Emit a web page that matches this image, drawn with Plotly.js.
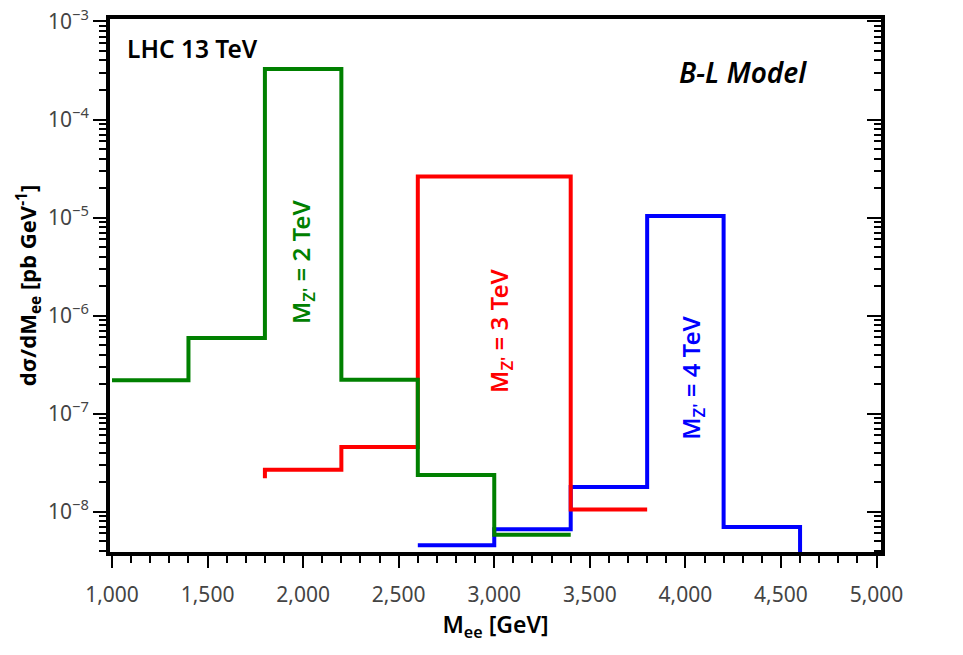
<!DOCTYPE html>
<html>
<head>
<meta charset="utf-8">
<script src="https://cdn.plot.ly/plotly-3.0.1.min.js"></script>
<style>
  html, body { margin: 0; padding: 0; background: #fff; }
  #chart { width: 963px; height: 655px; }
</style>
</head>
<body>
<div id="chart"></div>
<script>
// Bin edges (GeV) and differential cross sections (pb/GeV) per Z' mass
const edges2TeV = [1000, 1400, 1800, 2200, 2600, 3000, 3400];
const xsec2TeV  = [2.19e-7, 5.9e-7, 3.28e-4, 2.22e-7, 2.37e-8, 5.83e-9];

const edges3TeV = [1800, 2200, 2600, 3000, 3400, 3800];
const xsec3TeV  = [2.68e-8, 4.57e-8, 2.62e-5, 2.62e-5, 1.05e-8];
const start3TeV = 2.19e-8;   // level the red step rises from at 1800 GeV

const edges4TeV = [2600, 3000, 3400, 3800, 4200, 4600];
const xsec4TeV  = [4.55e-9, 6.62e-9, 1.79e-8, 1.04e-5, 6.98e-9];
const end4TeV   = 1e-9;      // falls off the bottom of the plot after 4600 GeV

const seriesLabels = ["M<sub>Z'</sub> = 2 TeV", "M<sub>Z'</sub> = 3 TeV", "M<sub>Z'</sub> = 4 TeV"];
const colors = ['#008000', '#ff0000', '#0000ff'];

// Decades shown on the cross-section axis, with their labels
const decades = [-9, -8, -7, -6, -5, -4, -3];
const decadeLabels = ['10<sup>−9</sup>', '10<sup>−8</sup>', '10<sup>−7</sup>', '10<sup>−6</sup>',
                      '10<sup>−5</sup>', '10<sup>−4</sup>', '10<sup>−3</sup>'];

// Turn edges + bin contents into an 'hv' step polyline
function steps(edges, vals, startVal, endVal) {
  const x = [], y = [];
  if (startVal !== undefined) { x.push(edges[0]); y.push(startVal); }
  for (let i = 0; i < vals.length; i++) { x.push(edges[i]); y.push(vals[i]); }
  x.push(edges[edges.length - 1]); y.push(vals[vals.length - 1]);
  if (endVal !== undefined) { x.push(edges[edges.length - 1]); y.push(endVal); }
  return {x, y};
}

const s2 = steps(edges2TeV, xsec2TeV);
const s3 = steps(edges3TeV, xsec3TeV, start3TeV);
const s4 = steps(edges4TeV, xsec4TeV, undefined, end4TeV);

function lineTrace(s, color, name, yax) {
  return {
    x: s.x, y: s.y, type: 'scatter', mode: 'lines', name: name, yaxis: yax,
    line: {shape: 'hv', color: color, width: 4},
    hoverinfo: 'x+y', showlegend: false
  };
}

// blue underneath, green on top (green lives on the mirrored right-hand axis)
const data = [
  lineTrace(s4, colors[2], seriesLabels[2], 'y'),
  lineTrace(s3, colors[1], seriesLabels[1], 'y'),
  lineTrace(s2, colors[0], seriesLabels[0], 'y2')
];

const majorVals = decades.map(d => Math.pow(10, d));

const yRange = [-8.411, -2.975];
const font = "'Noto Sans', 'Open Sans', sans-serif";

const layout = {
  width: 963, height: 655,
  margin: {l: 110, r: 81.5, t: 18.7, b: 103},
  paper_bgcolor: '#fff', plot_bgcolor: '#fff',
  font: {family: font, size: 19, color: '#444'},
  xaxis: {
    range: [989.5, 5023.5], tick0: 1000, dtick: 500, tickformat: ',d',
    showline: true, linewidth: 4, linecolor: '#000', mirror: true,
    ticks: 'outside', ticklen: 12, tickwidth: 2, tickcolor: '#000',
    minor: {dtick: 100, ticks: 'outside', ticklen: 7, tickwidth: 2, tickcolor: '#000', showgrid: false},
    showgrid: false, zeroline: false, ticklabelstandoff: 9,
    tickfont: {size: 21, color: '#444'},
    title: {text: 'M<sub>ee</sub> [GeV]', font: {size: 23, color: '#000', weight: 600}, standoff: 10}
  },
  yaxis: {
    type: 'log', range: yRange, tickmode: 'array', tickvals: majorVals, ticktext: decadeLabels,
    showline: true, linewidth: 4, linecolor: '#000',
    ticks: 'outside', ticklen: 13, tickwidth: 2, tickcolor: '#000',
    minor: {dtick: 'D1', ticks: 'outside', ticklen: 7, tickwidth: 2, tickcolor: '#000', showgrid: false},
    showgrid: false, zeroline: false,
    tickfont: {size: 21, color: '#444'},
    title: {text: 'dσ/dM<sub>ee</sub> [pb GeV<sup>-1</sup>]', font: {size: 22, color: '#000', weight: 700}}
  },
  yaxis2: {
    type: 'log', range: yRange, dtick: 1,
    overlaying: 'y', side: 'right', anchor: 'x',
    showline: true, linewidth: 4, linecolor: '#000', showticklabels: false,
    ticks: 'inside', ticklen: 14, tickwidth: 2, tickcolor: '#000',
    minor: {dtick: 'D1', ticks: 'inside', ticklen: 7, tickwidth: 2, tickcolor: '#000', showgrid: false},
    showgrid: false, zeroline: false
  },
  annotations: [
    {xref: 'paper', yref: 'paper', x: 0.02, y: 0.945, xanchor: 'left', yanchor: 'middle',
     text: 'LHC 13 TeV', showarrow: false, font: {size: 24.5, color: '#000', weight: 600}},
    {xref: 'paper', yref: 'paper', x: 0.906, y: 0.9, xanchor: 'right', yanchor: 'middle',
     text: '<i>B-L Model</i>', showarrow: false, font: {size: 28, color: '#000', weight: 600}},
    {x: 1993, y: -5.455, xref: 'x', yref: 'y', text: seriesLabels[0], textangle: -90, showarrow: false,
     font: {size: 24, color: colors[0], weight: 600}},
    {x: 3029, y: -6.158, xref: 'x', yref: 'y', text: seriesLabels[1], textangle: -90, showarrow: false,
     font: {size: 24, color: colors[1], weight: 600}},
    {x: 4033, y: -6.637, xref: 'x', yref: 'y', text: seriesLabels[2], textangle: -90, showarrow: false,
     font: {size: 24, color: colors[2], weight: 600}}
  ]
};

Plotly.newPlot('chart', data, layout, {displayModeBar: false, staticPlot: true});
</script>
</body>
</html>
